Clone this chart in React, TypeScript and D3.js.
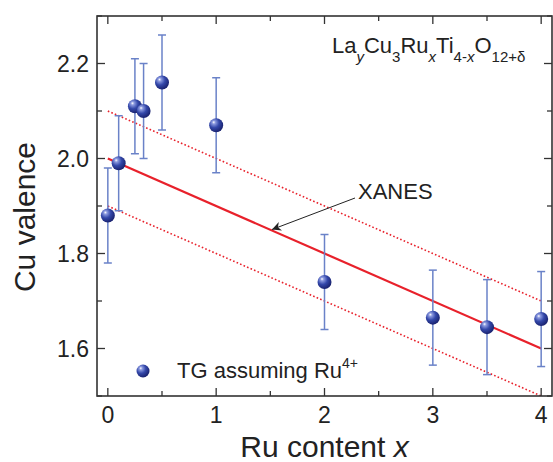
import React from "react";
import * as d3 from "d3";

const xs = [0, 0.1, 0.25, 0.33, 0.5, 1, 2, 3, 3.5, 4];
const vals = [1.88, 1.99, 2.11, 2.10, 2.16, 2.07, 1.74, 1.665, 1.645, 1.662];
const errs = [0.1, 0.1, 0.1, 0.1, 0.1, 0.1, 0.1, 0.1, 0.1, 0.1];
const fitX = [0, 4];
const fitY = [2.0, 1.6];
const bandOffset = [0.1, -0.1];
const xMajor = [0, 1, 2, 3, 4];
const yMajor = [1.6, 1.8, 2.0, 2.2];

const W = 553, H = 462;
const L = 97, R = 552, T = 16, B = 396;
const FONT = "'Liberation Sans', Arial, Helvetica, sans-serif";

export default function App() {
  const x = d3.scaleLinear().domain([-0.1, 4.1]).range([L, R]);
  const y = d3.scaleLinear().domain([1.5, 2.3]).range([B, T]);
  const line = d3.line<[number, number]>().x(d => x(d[0])).y(d => y(d[1]));
  const fit: [number, number][] = fitX.map((v, i) => [v, fitY[i]]);
  const xMinor = d3.range(0, 4.01, 0.5);
  const yMinor = d3.range(1.5, 2.301, 0.1).map(v => +v.toFixed(2));
  const stroke = "#333";
  const red = "#e8212b";
  const errColor = "#6a82c8";

  return (
    <svg width={W} height={H} style={{ position: "absolute", left: 0, top: 0, background: "#fff" }} fontFamily={FONT}>
      <defs>
        <radialGradient id="sph" cx="38%" cy="35%" r="65%" fx="32%" fy="28%">
          <stop offset="0%" stopColor="#ffffff" />
          <stop offset="18%" stopColor="#8d9be0" />
          <stop offset="55%" stopColor="#3448aa" />
          <stop offset="100%" stopColor="#1a2370" />
        </radialGradient>
        <clipPath id="clip">
          <rect x={L} y={T} width={R - L} height={B - T} />
        </clipPath>
        <marker id="arr" viewBox="0 0 10 10" refX="10" refY="5" markerWidth="13" markerHeight="9" orient="auto" markerUnits="userSpaceOnUse">
          <path d="M0,0 L10,5 L0,10 L3,5 Z" fill="#222" />
        </marker>
      </defs>

      {/* fit lines */}
      <g clipPath="url(#clip)">
        {bandOffset.map((o, i) => (
          <path key={i} d={line(fit.map(d => [d[0], d[1] + o]))!} fill="none" stroke={red} strokeWidth={1.6} strokeDasharray="1.6 2.2" />
        ))}
        <path d={line(fit)!} fill="none" stroke={red} strokeWidth={2.2} />
      </g>

      {/* error bars */}
      {xs.map((xv, i) => (
        <g key={i} stroke={errColor} strokeWidth={1.5}>
          <line x1={x(xv)} x2={x(xv)} y1={y(vals[i] - errs[i])} y2={y(vals[i] + errs[i])} />
          <line x1={x(xv) - 4} x2={x(xv) + 4} y1={y(vals[i] - errs[i])} y2={y(vals[i] - errs[i])} />
          <line x1={x(xv) - 4} x2={x(xv) + 4} y1={y(vals[i] + errs[i])} y2={y(vals[i] + errs[i])} />
        </g>
      ))}
      {xs.map((xv, i) => (
        <circle key={i} cx={x(xv)} cy={y(vals[i])} r={7} fill="url(#sph)" />
      ))}

      {/* frame and ticks */}
      <rect x={L} y={T} width={R - L} height={B - T} fill="none" stroke={stroke} strokeWidth={1.6} />
      {xMinor.map((v, i) => {
        const major = xMajor.includes(v);
        const len = major ? 8 : 5;
        return (
          <g key={i} stroke={stroke} strokeWidth={1.3}>
            <line x1={x(v)} x2={x(v)} y1={B} y2={B - len} />
            <line x1={x(v)} x2={x(v)} y1={T} y2={T + len} />
          </g>
        );
      })}
      {yMinor.map((v, i) => {
        const major = yMajor.some(m => Math.abs(m - v) < 1e-6);
        const len = major ? 8 : 5;
        return (
          <g key={i} stroke={stroke} strokeWidth={1.3}>
            <line x1={L} x2={L + len} y1={y(v)} y2={y(v)} />
            <line x1={R} x2={R - len} y1={y(v)} y2={y(v)} />
          </g>
        );
      })}
      {xMajor.map(v => (
        <text key={v} x={x(v)} y={423} fontSize={23} textAnchor="middle" fill="#222">{v}</text>
      ))}
      {yMajor.map(v => (
        <text key={v} x={89} y={y(v) + 8} fontSize={23} textAnchor="end" fill="#222">{v.toFixed(1)}</text>
      ))}

      {/* axis titles */}
      <text x={(L + R) / 2} y={457} fontSize={30} textAnchor="middle" fill="#222">
        Ru content <tspan fontStyle="italic">x</tspan>
      </text>
      <text transform={`translate(35,217) rotate(-90)`} fontSize={30} textAnchor="middle" fill="#222">Cu valence</text>

      {/* formula */}
      <text x={332} y={53} fontSize={22} fill="#222">
        La<tspan fontSize={15} dy={9} fontStyle="italic">y</tspan>
        <tspan dy={-9}>Cu</tspan><tspan fontSize={15} dy={9}>3</tspan>
        <tspan dy={-9}>Ru</tspan><tspan fontSize={15} dy={9} fontStyle="italic">x</tspan>
        <tspan dy={-9}>Ti</tspan><tspan fontSize={15} dy={9}>4-<tspan fontStyle="italic">x</tspan></tspan>
        <tspan dy={-9}>O</tspan><tspan fontSize={15} dy={9}>12+δ</tspan>
      </text>

      {/* XANES annotation */}
      <text x={358} y={199} fontSize={22} fill="#222">XANES</text>
      <line x1={355} y1={198} x2={272} y2={229.5} stroke="#222" strokeWidth={1} markerEnd="url(#arr)" />

      {/* legend */}
      <circle cx={143} cy={371} r={6.5} fill="url(#sph)" />
      <text x={177} y={378} fontSize={22} fill="#222">
        TG assuming Ru<tspan fontSize={14} dy={-10}>4+</tspan>
      </text>
    </svg>
  );
}
